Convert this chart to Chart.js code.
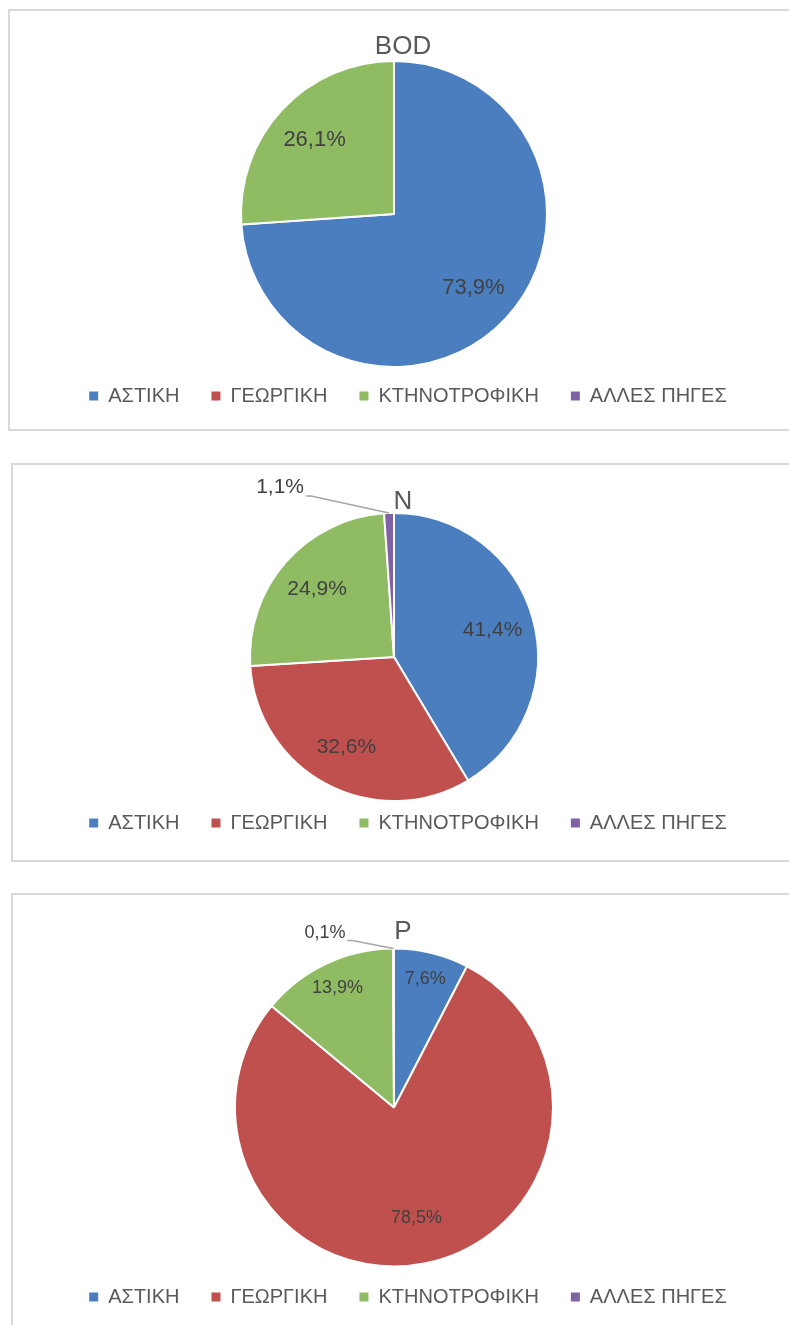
<!DOCTYPE html>
<html>
<head>
<meta charset="utf-8">
<script src="https://cdn.jsdelivr.net/npm/chart.js@4/dist/chart.umd.min.js"></script>
<style>
  html, body { margin: 0; padding: 0; background: #fff; }
  body { width: 789px; height: 1325px; overflow: hidden; position: relative; }
  .box { position: absolute; border: 2px solid #d9d9d9; box-sizing: border-box; }
  canvas { position: absolute; }
</style>
</head>
<body>
<div class="box" style="left:8px;top:9px;width:820px;height:422px"></div>
<div class="box" style="left:11px;top:463px;width:820px;height:399px"></div>
<div class="box" style="left:11px;top:893px;width:820px;height:460px"></div>
<canvas id="bod" width="800" height="406" style="left:8px;top:10px"></canvas>
<canvas id="nit" width="800" height="379" style="left:8px;top:464px"></canvas>
<canvas id="pho" width="800" height="423" style="left:8px;top:894px"></canvas>
<script>
// pollution sources
const categories = ['ΑΣΤΙΚΗ', 'ΓΕΩΡΓΙΚΗ', 'ΚΤΗΝΟΤΡΟΦΙΚΗ', 'ΑΛΛΕΣ ΠΗΓΕΣ'];
const bodValues = [73.9, 0, 26.1, 0];
const nValues = [41.4, 32.6, 24.9, 1.1];
const pValues = [7.6, 78.5, 13.9, 0.1];
const colors = ['#4a7ebf', '#c0504d', '#8fbc62', '#7e62a4'];

Chart.defaults.font.family = '"Liberation Sans", Arial, sans-serif';
Chart.defaults.color = '#595959';

// percentage labels inside the slices, leader line for the tiny ones
const pieLabels = {
    id: 'pieLabels',
    afterDatasetsDraw(chart, args, opts) {
        const ctx = chart.ctx;
        const values = chart.data.datasets[0].data;
        ctx.save();
        ctx.font = opts.size + 'px "Liberation Sans", Arial, sans-serif';
        ctx.fillStyle = '#404040';
        chart.getDatasetMeta(0).data.forEach((arc, i) => {
            const v = values[i];
            if (!v) return;
            const p = arc.getProps(['x', 'y', 'startAngle', 'endAngle', 'outerRadius'], true);
            const mid = (p.startAngle + p.endAngle) / 2;
            const text = v.toFixed(1).replace('.', ',') + '%';
            if (v < 2) {
                const ex = p.x + Math.cos(mid) * p.outerRadius;
                const ey = p.y + Math.sin(mid) * p.outerRadius;
                const kx = ex + opts.dx, ky = ey + opts.dy;
                ctx.strokeStyle = '#a6a6a6';
                ctx.lineWidth = 1.5;
                ctx.beginPath();
                ctx.moveTo(ex, ey);
                ctx.lineTo(kx, ky);
                ctx.lineTo(kx - 5, ky);
                ctx.stroke();
                ctx.textAlign = 'right';
                ctx.textBaseline = 'bottom';
                ctx.fillText(text, kx - 7, ky + 2);
            } else {
                const f = (p.endAngle - p.startAngle) < 1 ? 0.83 : 0.71;
                ctx.textAlign = 'center';
                ctx.textBaseline = 'middle';
                ctx.fillText(text, p.x + Math.cos(mid) * p.outerRadius * f, p.y + Math.sin(mid) * p.outerRadius * f);
            }
        });
        ctx.restore();
    }
};

// title and legend sit a bit right of the pie
const nudge = {
    id: 'nudge',
    afterLayout(chart, args, opts) {
        chart.legend.left += opts.legend;
        chart.legend.right += opts.legend;
        chart.titleBlock.left += opts.title;
        chart.titleBlock.right += opts.title;
    }
};

function makePie(id, title, values, radius, titlePad, labelOpts) {
    new Chart(document.getElementById(id), {
        type: 'pie',
        data: {
            labels: categories,
            datasets: [{
                data: values,
                backgroundColor: colors,
                borderColor: '#ffffff',
                borderWidth: 2,
                clip: false
            }]
        },
        options: {
            responsive: false,
            animation: false,
            events: [],
            radius: radius,
            layout: { padding: { left: 0, right: 28, top: 0, bottom: 0 } },
            plugins: {
                title: {
                    display: true,
                    text: title,
                    color: '#595959',
                    font: { size: 26, weight: 'normal' },
                    padding: titlePad
                },
                legend: {
                    position: 'bottom',
                    labels: {
                        boxWidth: 9,
                        boxHeight: 9,
                        padding: 32,
                        color: '#595959',
                        font: { size: 20 },
                        generateLabels: c => Chart.overrides.pie.plugins.legend.labels.generateLabels(c)
                            .map(item => Object.assign(item, { lineWidth: 0 }))
                    }
                },
                tooltip: { enabled: false },
                pieLabels: labelOpts,
                nudge: { legend: 14, title: 9 }
            }
        },
        plugins: [pieLabels, nudge]
    });
}

makePie('bod', 'BOD', bodValues, 153, { top: 21.4, bottom: 11.4 }, { size: 22, dx: 0, dy: 0 });
makePie('nit', 'N', nValues, 144, { top: 22.4, bottom: 15.4 }, { size: 21, dx: -78, dy: -17 });
makePie('pho', 'P', pValues, 159, { top: 22.4, bottom: 12.4 }, { size: 18, dx: -41, dy: -8 });
</script>
</body>
</html>
